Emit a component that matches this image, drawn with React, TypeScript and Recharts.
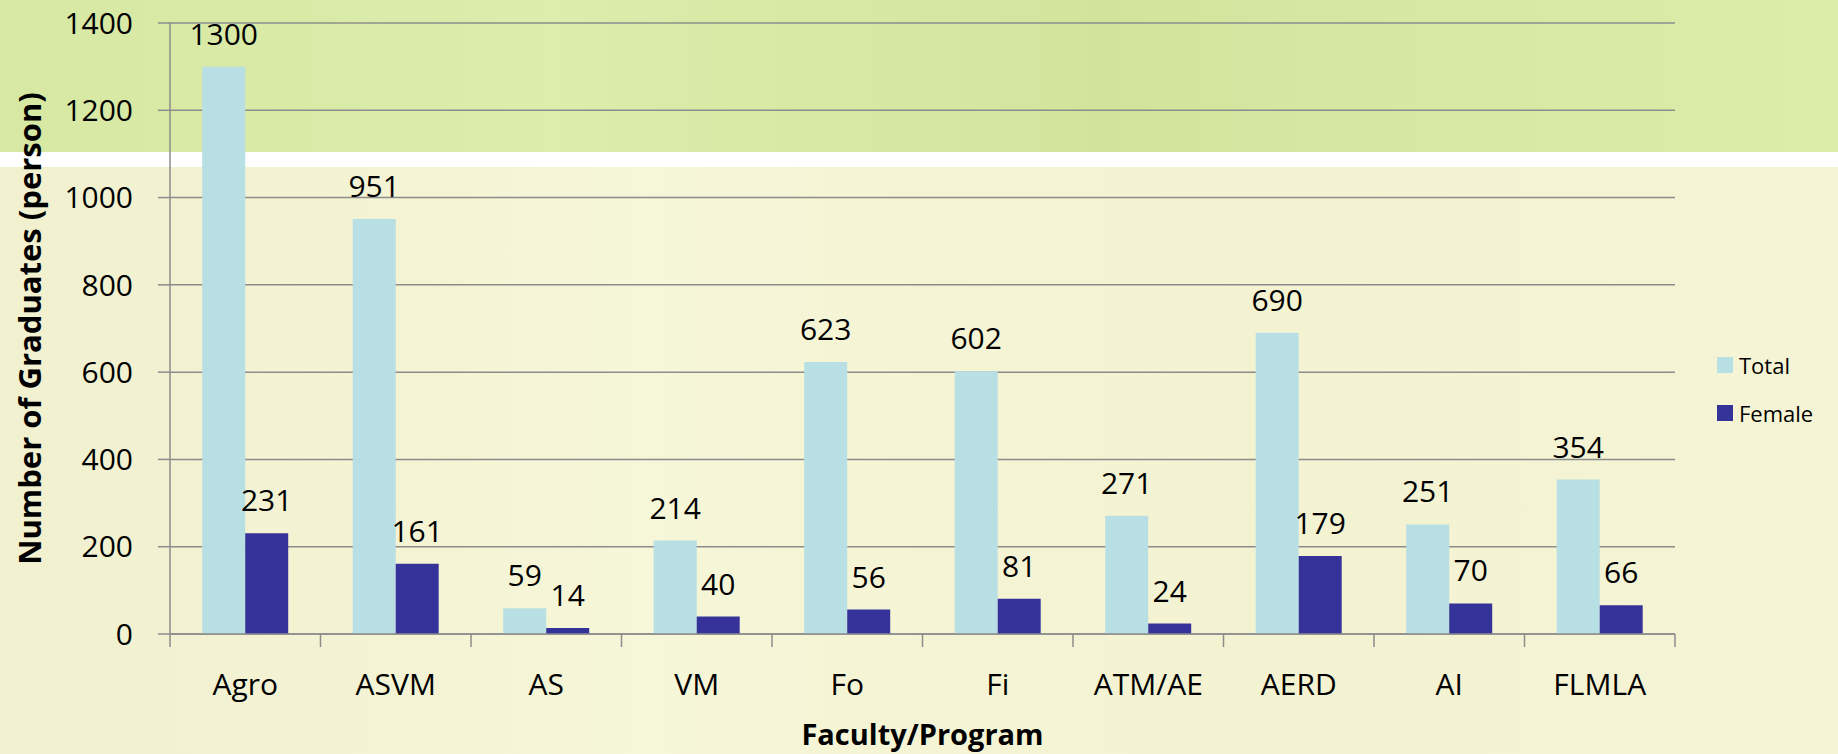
import React from "react";
import {
  BarChart,
  Bar,
  XAxis,
  YAxis,
  CartesianGrid,
  Legend,
  LabelList,
} from "recharts";

const categories = ["Agro", "ASVM", "AS", "VM", "Fo", "Fi", "ATM/AE", "AERD", "AI", "FLMLA"];
const totalValues = [1300, 951, 59, 214, 623, 602, 271, 690, 251, 354];
const femaleValues = [231, 161, 14, 40, 56, 81, 24, 179, 70, 66];
const yTicks = [0, 200, 400, 600, 800, 1000, 1200, 1400];
const seriesOrder = ["Total", "Female"];

const data = categories.map((name, i) => ({
  name,
  Total: totalValues[i],
  Female: femaleValues[i],
}));

const FONT = "'Open Sans', 'Noto Sans', sans-serif";
const GRID = "#8c8c8c";
const TOTAL_COLOR = "#b8dfe3";
const FEMALE_COLOR = "#35339a";

const W = 1838;
const H = 754;
const MARGIN = { top: 23, right: 163, bottom: 0, left: 0 };
const Y_AXIS_W = 170;
const PLOT_W = W - MARGIN.left - MARGIN.right - Y_AXIS_W;
const HALF_BAND = PLOT_W / categories.length / 2;
const X_TICK_SIZE = 13;
const X_TICK_MARGIN = 27;

const LegendContent = (props: any) => {
  const payload = [...(props.payload || [])].sort(
    (a: any, b: any) => seriesOrder.indexOf(a.value) - seriesOrder.indexOf(b.value)
  );
  return (
    <div style={{ fontFamily: FONT, fontSize: 22, color: "#000" }}>
      {payload.map((p: any) => (
        <div
          key={p.value}
          style={{ display: "flex", alignItems: "center", height: 48 }}
        >
          <div
            style={{
              width: 16,
              height: 16,
              background: p.color,
              marginRight: 6,
            }}
          />
          <span>{p.value}</span>
        </div>
      ))}
    </div>
  );
};

const CategoryTick = (props: any) => {
  const { x, y, payload, index } = props;
  const axisY = y - X_TICK_SIZE - X_TICK_MARGIN;
  const isLast = index === categories.length - 1;
  return (
    <g>
      <line
        x1={x - HALF_BAND}
        x2={x - HALF_BAND}
        y1={axisY}
        y2={axisY + X_TICK_SIZE}
        stroke={GRID}
        strokeWidth={1.5}
      />
      {isLast && (
        <line
          x1={x + HALF_BAND}
          x2={x + HALF_BAND}
          y1={axisY}
          y2={axisY + X_TICK_SIZE}
          stroke={GRID}
          strokeWidth={1.5}
        />
      )}
      <text
        x={x}
        y={y}
        dy="0.71em"
        textAnchor="middle"
        fill="#000"
        fontSize={30}
        fontFamily={FONT}
      >
        {payload.value}
      </text>
    </g>
  );
};

export default function App() {
  return (
    <div
      style={{
        position: "absolute",
        left: 0,
        top: 0,
        width: W,
        height: H,
        overflow: "hidden",
        fontFamily: FONT,
      }}
    >
      <div
        style={{
          position: "absolute",
          left: 0,
          top: 0,
          width: W,
          height: 152,
          background:
            "linear-gradient(90deg, #d6e8a2 0%, #dcedac 30%, #d2e49c 60%, #dcedaa 100%)",
        }}
      />
      <div
        style={{
          position: "absolute",
          left: 0,
          top: 152,
          width: W,
          height: 15,
          background: "#ffffff",
        }}
      />
      <div
        style={{
          position: "absolute",
          left: 0,
          top: 167,
          width: W,
          height: H - 167,
          background:
            "linear-gradient(90deg, #f1f1d0 0%, #f6f6d8 35%, #f3f3d2 70%, #f5f5d6 100%)",
        }}
      />
      <div style={{ position: "absolute", left: 0, top: 0 }}>
        <BarChart
          width={W}
          height={H}
          data={data}
          margin={MARGIN}
          barCategoryGap="21.4%"
          barGap={0}
        >
          <CartesianGrid
            horizontal={true}
            vertical={false}
            stroke={GRID}
            strokeWidth={1.5}
          />
          <XAxis
            dataKey="name"
            height={120}
            tickLine={false}
            tickSize={X_TICK_SIZE}
            tickMargin={X_TICK_MARGIN}
            interval={0}
            axisLine={{ stroke: GRID, strokeWidth: 1.5 }}
            tick={<CategoryTick />}
            label={{
              value: "Faculty/Program",
              position: "insideBottom",
              offset: 9,
              style: {
                fill: "#000",
                fontSize: 29,
                fontWeight: 700,
                fontFamily: FONT,
              },
            }}
          />
          <YAxis
            width={Y_AXIS_W}
            domain={[0, 1400]}
            ticks={yTicks}
            interval={0}
            tickSize={12}
            tickMargin={25}
            axisLine={{ stroke: GRID, strokeWidth: 1.5 }}
            tickLine={{ stroke: GRID, strokeWidth: 1.5 }}
            tick={{ fill: "#000", fontSize: 30, fontFamily: FONT }}
            label={{
              value: "Number of Graduates (person)",
              angle: -90,
              position: "insideLeft",
              offset: 30,
              style: {
                fill: "#000",
                fontSize: 31,
                fontWeight: 700,
                fontFamily: FONT,
                textAnchor: "middle",
              },
            }}
          />
          <Legend
            layout="horizontal"
            align="center"
            verticalAlign="middle"
            content={<LegendContent />}
            wrapperStyle={{ position: "absolute", left: 1717, top: 341, width: 120 }}
          />
          <Bar
            dataKey="Total"
            name="Total"
            fill={TOTAL_COLOR}
            isAnimationActive={false}
          >
            <LabelList
              dataKey="Total"
              position="top"
              offset={22}
              style={{ fill: "#000", fontSize: 30, fontFamily: FONT }}
            />
          </Bar>
          <Bar
            dataKey="Female"
            name="Female"
            fill={FEMALE_COLOR}
            isAnimationActive={false}
          >
            <LabelList
              dataKey="Female"
              position="top"
              offset={22}
              style={{ fill: "#000", fontSize: 30, fontFamily: FONT }}
            />
          </Bar>
        </BarChart>
      </div>
    </div>
  );
}
